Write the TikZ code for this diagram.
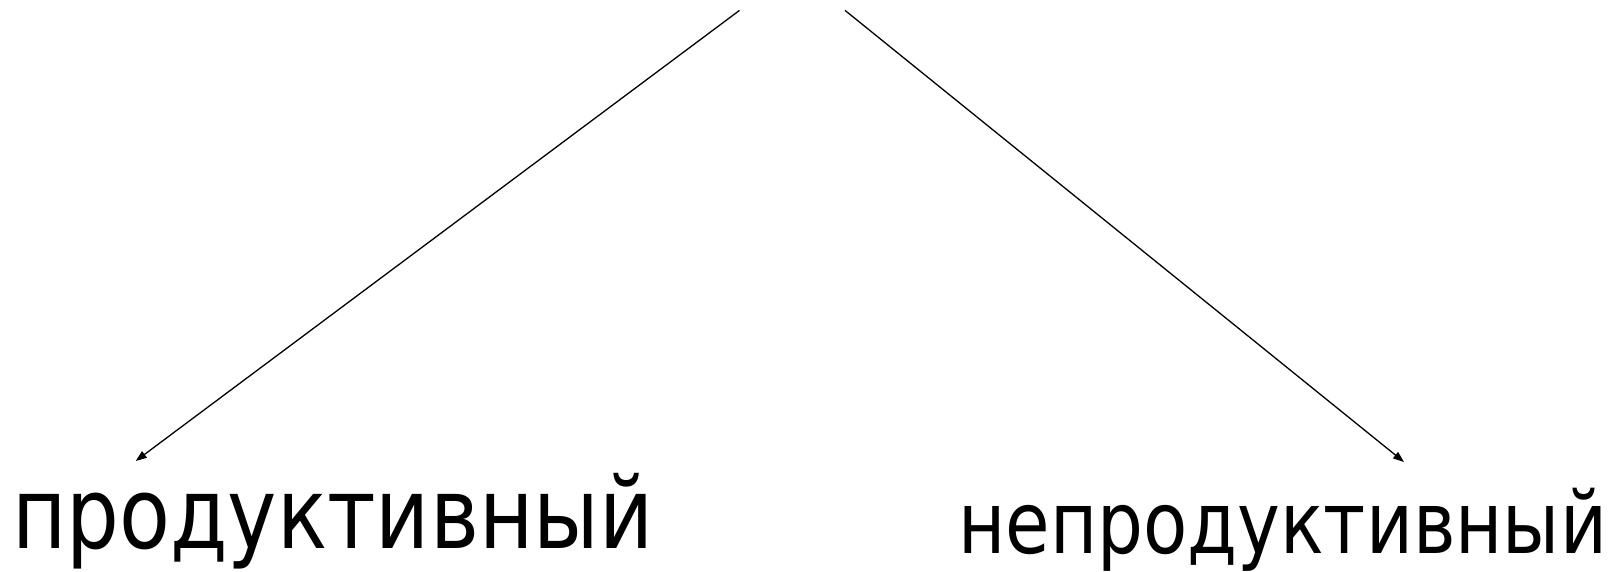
\documentclass[tikz,border=0pt]{standalone}
\usepackage{fontspec}
\setmainfont[FakeStretch=0.935]{DejaVu Sans Condensed}
\usetikzlibrary{positioning,arrows.meta}

\begin{document}
\begin{tikzpicture}[x=1pt, y=1pt,
		word/.style={inner sep=0pt, anchor=base west, font=\fontsize{99}{110}\selectfont},
		small/.style={font=\fontsize{86}{96}\selectfont},
		arr/.style={-{Triangle[length=11pt, width=8pt]}, line width=1.3pt}]
		\useasboundingbox (0,0) rectangle (1624,572);

		\coordinate (L) at (739.5,561.6);
		\coordinate (R) at (845,561.6);
		\coordinate (Lt) at (135.7,111);
		\coordinate (Rt) at (1404,110);

		\node [word] (prod) at (12,23) {продуктивный};
		\node [word, small] (neprod) at (958,18) {непродуктивный};

		\draw [arr] (L) -- (Lt);
		\draw [arr] (R) -- (Rt);
	\end{tikzpicture}
\end{document}
